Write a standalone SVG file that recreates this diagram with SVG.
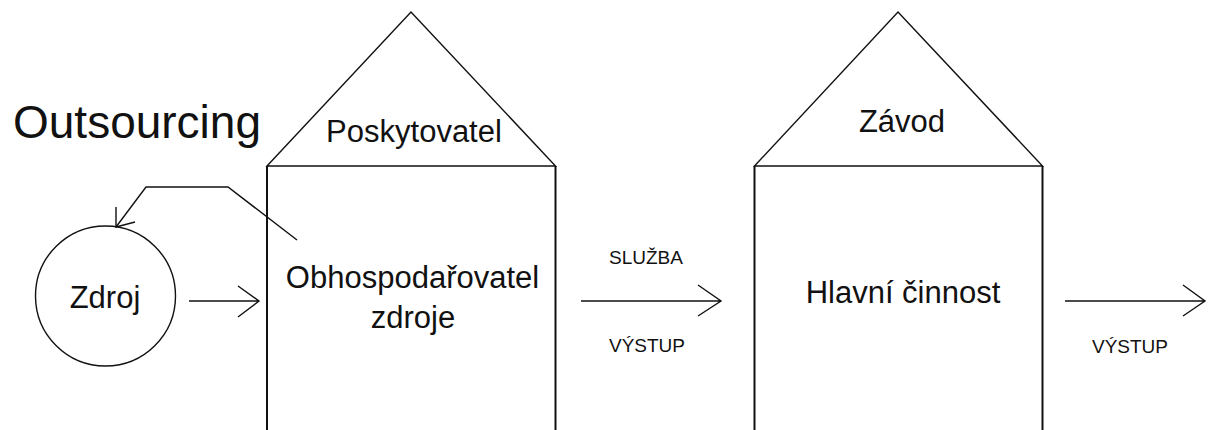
<svg xmlns="http://www.w3.org/2000/svg" width="1213" height="430" viewBox="0 0 1213 430">
  <style>
    text { font-family: "Liberation Sans", Arial, sans-serif; fill: #111; text-anchor: middle; }
    .roof { fill: none; stroke: #111; stroke-width: 1.4; stroke-linejoin: miter; }
    .wall { fill: none; stroke: #111; stroke-width: 2; }
    .edge { fill: none; stroke: #111; stroke-width: 1.4; }
    .big { font-size: 31px; }
    .small { font-size: 19px; }
  </style>
  <rect width="1213" height="430" fill="#fff"/>

  <text x="137" y="138" style="font-size:46px">Outsourcing</text>

  <g id="zdroj">
    <circle cx="105.5" cy="296" r="70" fill="none" stroke="#111" stroke-width="1.4"/>
    <text class="big" x="105" y="308">Zdroj</text>
  </g>

  <g id="poskytovatel">
    <path class="roof" d="M267 166 L411 12 L555.5 166 Z"/>
    <path class="wall" d="M267 166 V432 M555.5 166 V432"/>
    <text class="big" x="414" y="142">Poskytovatel</text>
    <text class="big" x="412.5" y="288">Obhospodařovatel</text>
    <text class="big" x="413" y="328">zdroje</text>
  </g>

  <g id="zavod">
    <path class="roof" d="M754.5 166 L898 12 L1042.5 166 Z"/>
    <path class="wall" d="M754.5 166 V432 M1042.5 166 V432"/>
    <text class="big" x="902" y="132">Závod</text>
    <text class="big" x="903" y="303">Hlavní činnost</text>
  </g>

  <g id="connectors">
    <!-- feedback from the manager back to the resource -->
    <path class="edge" d="M297 240 L228 187 L146 187 L116 227"/>
    <path class="edge" d="M116 207 L116 227 L135 222"/>
    <!-- resource into the provider -->
    <path class="edge" d="M189 301 H259 M238 286 L259 301 L238 317"/>
    <!-- service output -->
    <path class="edge" d="M581 301 H721 M698 285 L721 301 L698 316"/>
    <text class="small" x="646" y="264">SLUŽBA</text>
    <text class="small" x="647" y="352">VÝSTUP</text>
    <!-- final output -->
    <path class="edge" d="M1065 301 H1205 M1183 285 L1205 301 L1183 316"/>
    <text class="small" x="1130" y="353">VÝSTUP</text>
  </g>
</svg>
